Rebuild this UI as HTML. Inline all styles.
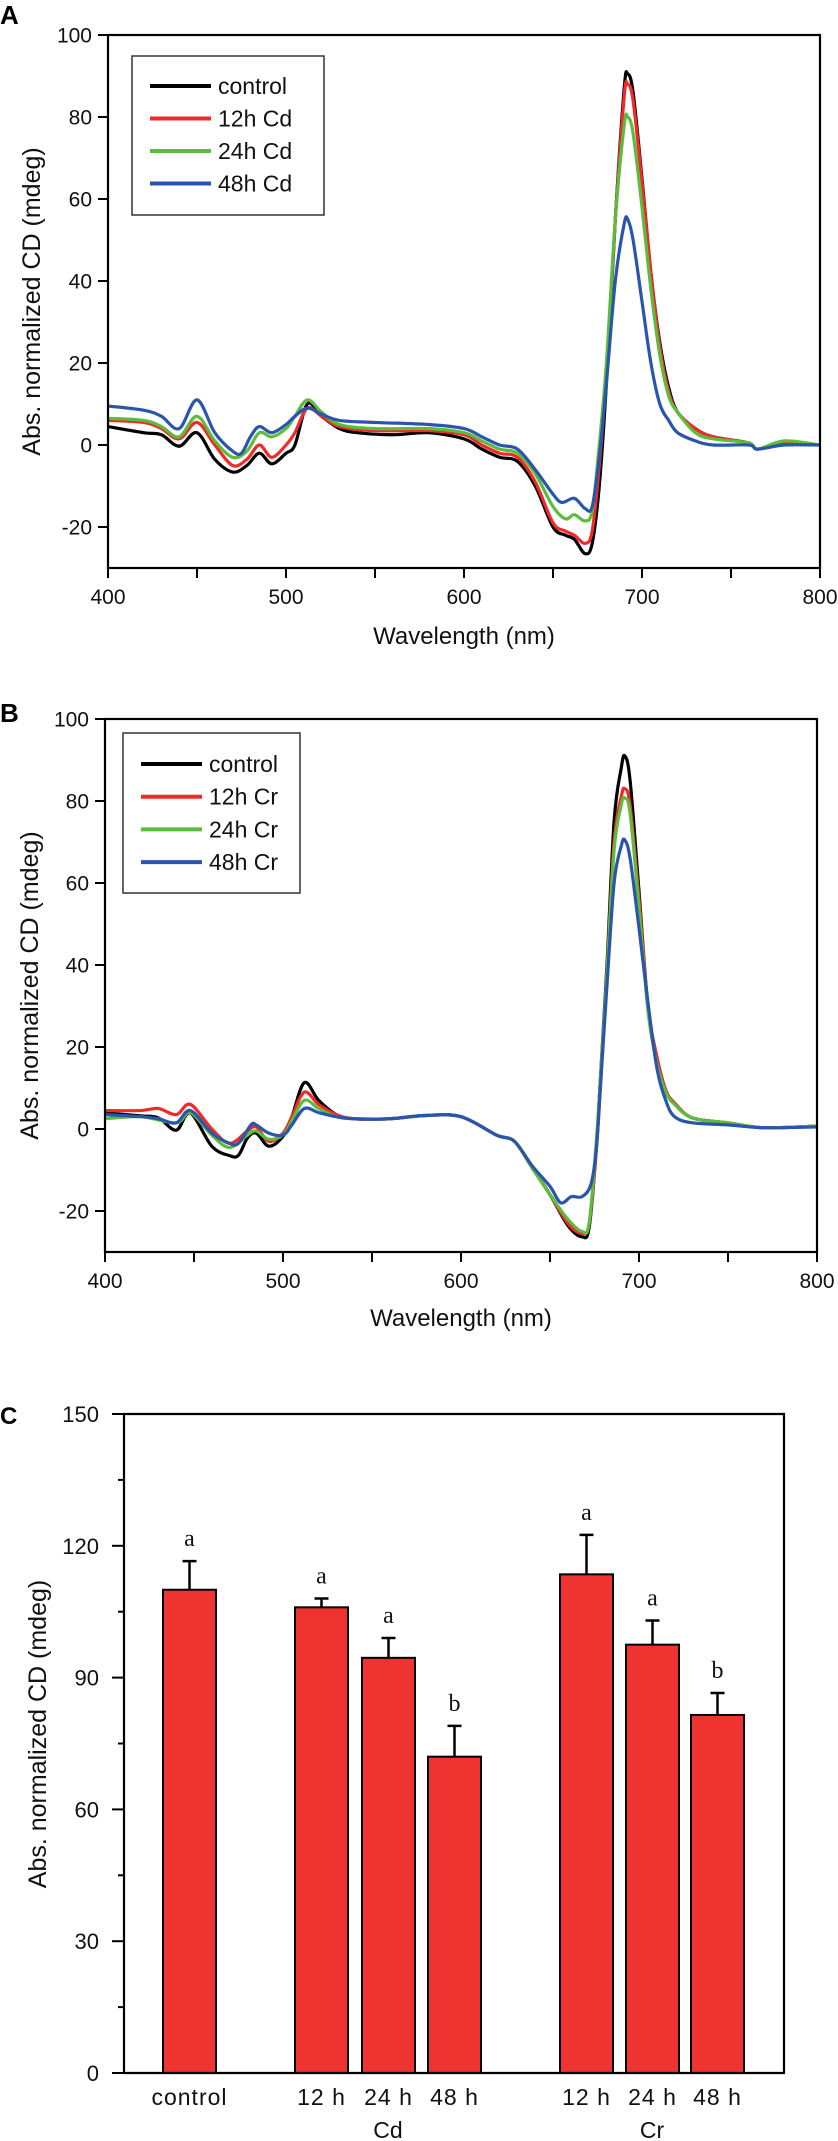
<!DOCTYPE html>
<html><head><meta charset="utf-8">
<style>
html,body{margin:0;padding:0;background:#fff;}
svg{display:block;font-family:"Liberation Sans",Arial,sans-serif;}
</style></head>
<body>
<svg id="fig" width="838" height="2141" viewBox="0 0 838 2141" xmlns="http://www.w3.org/2000/svg">
<g id="panelA"></g>
<g id="panelB"></g>
<g id="panelC"></g>
</svg>
<script>
// ---------- Panel A data (wavelength nm -> CD mdeg) ----------
const aCtrlX=[400,420,430,440,450,460,470,478,485,492,500,505,512,520,530,540,560,580,600,610,620,630,640,650,657,662,668,672,676,680,685,690,692,695,700,705,710,715,720,730,740,760,765,780,800];
const aCtrlY=[4.5,3,2.5,-0.3,3,-3.5,-6.6,-5,-2,-4.6,-2,0,10,7,4,3,2.5,3,1.5,-1,-3,-4,-10,-20,-22,-23,-26.5,-24,-10,15,55,87,90.5,86,65,42,25,14,8,4,2,0.5,-1,0.5,0];
const a12X=[400,420,430,440,450,460,470,478,485,492,500,505,512,520,530,550,580,600,610,620,630,640,650,657,662,668,672,676,680,685,690,692,695,700,705,710,715,720,730,740,760,765,780,800];
const a12Y=[6,5.5,4,1.5,5.5,0,-5,-3.5,0,-3,0,3,9,7,4.5,3.5,3.5,2.5,0,-2,-3,-9,-19,-21,-22,-24,-21,-5,18,55,85,88,84,64,42,24,13,8,4,2,0.5,-1,0.5,0];
const a24X=[400,420,430,440,450,460,470,478,485,492,500,505,512,520,530,550,580,600,610,620,630,640,650,657,662,668,672,676,680,685,690,692,695,700,705,710,715,720,730,740,760,765,780,800];
const a24Y=[6.5,6,4.5,2,7,1,-3,-1.5,3,2,4,7,11,8,5,4,4,3,1,-1,-2,-7,-15,-18,-17,-18.5,-16,0,20,55,78,80,76,58,38,22,12,8,3,1.5,0.5,-1,1,0];
const a48X=[400,420,430,440,450,460,470,475,480,485,492,500,505,512,520,530,550,580,600,610,620,630,640,650,655,662,668,672,676,680,685,690,692,695,700,705,710,715,720,730,740,760,765,780,800];
const a48Y=[9.5,8.5,7,4,11,3,-1.5,-2,2,4.5,3,5,7,9,7.5,6,5.5,5,4,2,0,-1,-6,-12,-14,-13,-15.5,-15,-3,15,40,54,55,50,35,20,10,6,3,1,0,0,-1,0,0];
// ---------- Panel B data ----------
const bCtrlX=[400,420,430,440,448,460,470,475,480,485,492,500,505,512,520,530,540,560,580,600,620,630,640,650,660,668,672,676,678,682,686,690,692,695,700,705,710,715,720,730,750,770,800];
const bCtrlY=[3.9,3.2,2.7,-0.3,3.9,-4.2,-6.5,-6.4,-2.2,-1,-4.2,-1.8,3,11.3,7,3.5,2.5,2.5,3.3,3,-1.5,-3,-9.5,-16,-23.5,-26.3,-24,-5,10,40,75,88,91,85,58,30,17.6,9.5,6.3,2.7,1.5,0.3,0.7];
const b12X=[400,420,430,440,448,460,470,480,485,492,500,505,512,520,530,540,560,580,600,620,630,640,650,660,668,672,676,678,682,686,690,692,695,700,705,710,715,720,730,750,770,800];
const b12Y=[4.5,4.5,5,3.5,6,0,-3.5,-0.5,0.5,-3,-1,3,9,6,3.5,2.5,2.5,3.3,3,-1.5,-3,-9.5,-16,-23,-25.5,-23,-5,8,38,70,81,83,79,56,30,17.6,9.5,6.3,2.7,1.5,0.3,0.7];
const b24X=[400,420,440,448,460,470,480,485,492,500,505,512,520,530,540,560,580,600,620,630,640,650,660,668,672,676,678,682,686,690,692,695,700,705,710,715,720,730,750,770,800];
const b24Y=[2.5,3,1.5,4,-1.5,-4.5,-1.5,-0.5,-2.5,-1.5,2,7,5,3,2.5,2.5,3.3,3,-1.5,-3,-9.5,-16,-22,-25,-23,-3,10,38,68,79,80.7,77,54,29,16,9,6,2.7,1.5,0.3,0.7];
const b48X=[400,420,430,440,448,460,470,475,482,485,492,500,505,512,520,530,540,560,580,600,620,630,640,650,656,662,668,673,676,678,682,686,690,692,695,700,705,710,715,720,730,750,770,800];
const b48Y=[3.5,3,2.5,1.5,4.5,-1,-3.5,-3.5,1,1,-1,-1.5,1,5,4,3,2.5,2.5,3.3,3,-1.5,-3,-9,-14,-18,-16.5,-16.5,-13.5,-5,8,35,60,69,70.5,66,49,31,15,7,3,1.5,1,0.3,0.5];
// ---------- Panel C data ----------
const cCats=["control","12 h","24 h","48 h","12 h","24 h","48 h"];
const cVals=[110,106,94.5,72,113.5,97.5,81.5];
const cErrs=[6.5,2,4.5,7,9,5.5,5];
const cLetters=["a","a","a","b","a","a","b"];
const cYTicks=[0,30,60,90,120,150];

const NS="http://www.w3.org/2000/svg";
function mk(parent,tag,attrs,text){
  const e=document.createElementNS(NS,tag);
  for(const k in attrs)e.setAttribute(k,attrs[k]);
  if(text!==undefined)e.textContent=text;
  parent.appendChild(e);return e;
}
function spline(pts){
  let d="M"+pts[0][0].toFixed(2)+","+pts[0][1].toFixed(2);
  for(let i=0;i<pts.length-1;i++){
    const p0=pts[Math.max(0,i-1)],p1=pts[i],p2=pts[i+1],p3=pts[Math.min(pts.length-1,i+2)];
    const c1=[p1[0]+(p2[0]-p0[0])/6,p1[1]+(p2[1]-p0[1])/6];
    const c2=[p2[0]-(p3[0]-p1[0])/6,p2[1]-(p3[1]-p1[1])/6];
    d+=" C"+c1[0].toFixed(2)+","+c1[1].toFixed(2)+" "+c2[0].toFixed(2)+","+c2[1].toFixed(2)+" "+p2[0].toFixed(2)+","+p2[1].toFixed(2);
  }
  return d;
}

function spectrum(g,cfg){
  const L=cfg.left,R=cfg.right,T=cfg.top,B=cfg.bottom;
  const sx=v=>L+(v-400)/400*(R-L);
  const sy=v=>T+(100-v)/130*(B-T);
  const clip="clip"+cfg.id;
  const defs=mk(g,"defs",{});
  const cp=mk(defs,"clipPath",{id:clip});
  mk(cp,"rect",{x:L,y:T,width:R-L,height:B-T});
  // panel letter
  const pl=mk(g,"text",{x:0,y:cfg.letterY,"font-size":26,"font-weight":"bold",fill:"#000"},cfg.id);
  
  
  // series
  const sg=mk(g,"g",{"clip-path":"url(#"+clip+")"});
  
  
  cfg.series.forEach(s=>{
    const pts=s.x.map((x,i)=>[sx(x),sy(s.y[i])]);
    const p=mk(sg,"path",{d:spline(pts),fill:"none",stroke:s.color,"stroke-width":3.2,"stroke-linejoin":"round"});
    
    
  });
  // frame
  const fr=mk(g,"rect",{x:L,y:T,width:R-L,height:B-T,fill:"none",stroke:"#000","stroke-width":2.2});
  
  
  // y ticks
  [-20,0,20,40,60,80,100].forEach(v=>{
    mk(g,"line",{x1:L-10,x2:L,y1:sy(v),y2:sy(v),stroke:"#000","stroke-width":2});
    const t=mk(g,"text",{x:L-16,y:sy(v)+7.5,"text-anchor":"end","font-size":21,fill:"#111"},String(v));
    
    
  });
  // x ticks
  [400,450,500,550,600,650,700,750,800].forEach(v=>{
    const major=v%100===0;
    mk(g,"line",{x1:sx(v),x2:sx(v),y1:B,y2:B+10,stroke:"#000","stroke-width":2});
    if(major){
      const t=mk(g,"text",{x:sx(v),y:B+36,"text-anchor":"middle","font-size":21,fill:"#111"},String(v));
      
      
    }
  });
  const xt=mk(g,"text",{x:(L+R)/2,y:cfg.xTitleY,"text-anchor":"middle","font-size":24,fill:"#111"},"Wavelength (nm)");
  
  
  const yt=mk(g,"text",{x:0,y:0,"text-anchor":"middle","font-size":25,fill:"#111",transform:"translate("+cfg.yTitleX+","+((T+B)/2)+") rotate(-90)"},"Abs. normalized CD (mdeg)");
  
  
  // legend
  const lg=mk(g,"g",{});
  
  
  const lb=cfg.legend;
  mk(lg,"rect",{x:lb.x,y:lb.y,width:lb.w,height:lb.h,fill:"#fff",stroke:"#333","stroke-width":1.5});
  cfg.series.forEach((s,i)=>{
    const yy=lb.first+i*lb.step;
    const ent=mk(lg,"g",{});
    
    
    mk(ent,"line",{x1:lb.x+18,x2:lb.x+79,y1:yy,y2:yy,stroke:s.color,"stroke-width":4});
    mk(ent,"text",{x:lb.x+86,y:yy+8,"font-size":23,fill:"#111"},s.label);
  });
}

spectrum(document.getElementById("panelA"),{id:"A",left:108,right:820,top:35,bottom:568,letterY:24,xTitleY:644,yTitleX:40,
  legend:{x:132,y:56,w:192,h:159,first:86,step:32.5},
  series:[
    {name:"control-line",label:"control",color:"#000",x:aCtrlX,y:aCtrlY},
    {name:"12h-cd-line",label:"12h Cd",color:"#ee2a2a",x:a12X,y:a12Y},
    {name:"24h-cd-line",label:"24h Cd",color:"#5cbc3c",x:a24X,y:a24Y},
    {name:"48h-cd-line",label:"48h Cd",color:"#2a55ad",x:a48X,y:a48Y}
  ]});
spectrum(document.getElementById("panelB"),{id:"B",left:105,right:817,top:719,bottom:1252,letterY:722,xTitleY:1326,yTitleX:38,
  legend:{x:123,y:733,w:177,h:160,first:764,step:32.7},
  series:[
    {name:"control-line",label:"control",color:"#000",x:bCtrlX,y:bCtrlY},
    {name:"12h-cr-line",label:"12h Cr",color:"#ee2a2a",x:b12X,y:b12Y},
    {name:"24h-cr-line",label:"24h Cr",color:"#5cbc3c",x:b24X,y:b24Y},
    {name:"48h-cr-line",label:"48h Cr",color:"#2a55ad",x:b48X,y:b48Y}
  ]});

// ---------- Panel C ----------
(function(){
  const g=document.getElementById("panelC");
  const L=124,R=784,T=1414,B=2073;
  const sy=v=>B-v/150*(B-T);
  const barLeft=[163,295,362,428,560,626,691];
  const bw=53;
  const pl=mk(g,"text",{x:0,y:1424,"font-size":24,"font-weight":"bold",fill:"#000"},"C");
  
  
  cVals.forEach((v,i)=>{
    const x=barLeft[i];
    const r=mk(g,"rect",{x:x,y:sy(v),width:bw,height:B-sy(v),fill:"#ee3330",stroke:"#000","stroke-width":2});
    
    
    const cx=x+bw/2, top=sy(v+cErrs[i]);
    const e=mk(g,"path",{d:"M"+cx+","+sy(v)+" V"+top+" M"+(cx-7)+","+top+" H"+(cx+7),stroke:"#000","stroke-width":2.5,fill:"none"});
    
    
    const t=mk(g,"text",{x:cx,y:top-15,"text-anchor":"middle","font-size":24,"font-family":"Liberation Serif,serif",fill:"#111"},cLetters[i]);
    
    
    const c=mk(g,"text",{x:cx,y:2105,"text-anchor":"middle","font-size":23,"letter-spacing":"1",fill:"#111"},cCats[i]);
    
    
  });
  const cd=mk(g,"text",{x:388,y:2138,"text-anchor":"middle","font-size":23,fill:"#111"},"Cd");
  
  
  const cr=mk(g,"text",{x:652,y:2138,"text-anchor":"middle","font-size":23,fill:"#111"},"Cr");
  
  
  const fr=mk(g,"path",{d:"M"+L+","+T+" H"+R+" V"+B+" H"+L+" Z",fill:"none",stroke:"#000","stroke-width":2.2});
  
  
  cYTicks.forEach(v=>{
    mk(g,"line",{x1:L-12,x2:L,y1:sy(v),y2:sy(v),stroke:"#000","stroke-width":2});
    const t=mk(g,"text",{x:L-25,y:sy(v)+8,"text-anchor":"end","font-size":22,fill:"#111"},String(v));
    
    
    if(v<150) mk(g,"line",{x1:L-6,x2:L,y1:sy(v+15),y2:sy(v+15),stroke:"#000","stroke-width":2});
  });
  const yt=mk(g,"text",{x:0,y:0,"text-anchor":"middle","font-size":25,fill:"#111",transform:"translate(46,1734) rotate(-90)"},"Abs. normalized CD (mdeg)");
  
  
})();
</script>
</body></html>
